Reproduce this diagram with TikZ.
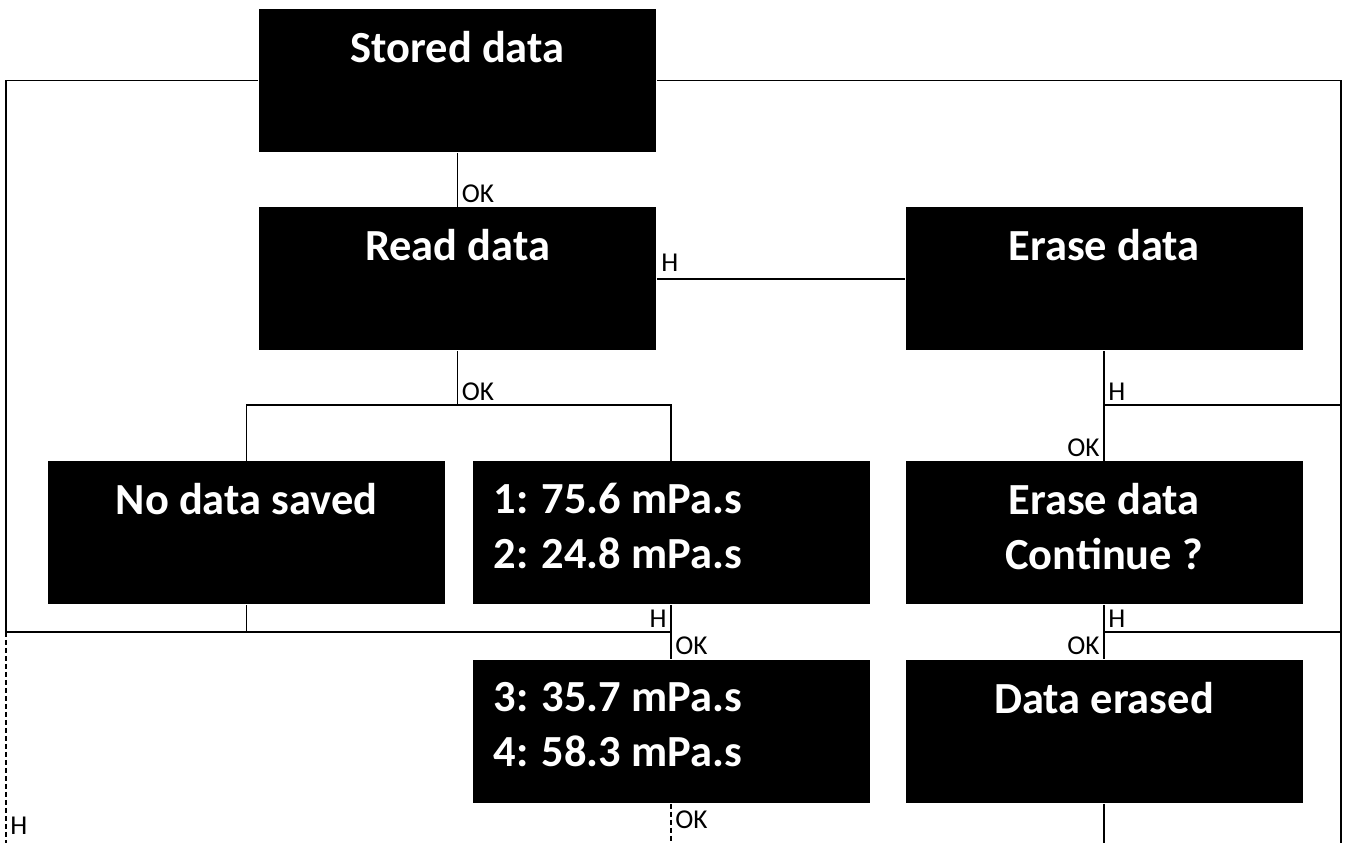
\documentclass[tikz,border=0pt]{standalone}
\usepackage{fontspec}
\setmainfont{Carlito}
\begin{document}
\begin{tikzpicture}[line width=1pt,
  screen/.style={rectangle, fill=black, draw=none, minimum width=7.94cm, minimum height=2.86cm, inner sep=0pt},
  screentext/.style={text=white, font=\bfseries\fontsize{25.3}{31.3}\selectfont, align=center, inner sep=0pt, anchor=north, yshift=-0.44cm},
  key/.style={font=\fontsize{15.5}{17}\selectfont, inner sep=2pt}]
\useasboundingbox (0,0) rectangle (26.92,16.86);
%%%%%%%%%%%%%%%%%%%%%%%%%%%%%%% Screens
\node[screen](stored) at (9.15,15.25){};
\node[screentext](storedTxt) at (stored.north){Stored data};
\node[screen](read) at (9.15,11.28){};
\node[screentext](readTxt) at (read.north){Read data};
\node[screen](erase) at (22.08,11.28){};
\node[screentext](eraseTxt) at (erase.north){Erase data};
\node[screen](nodata) at (4.93,6.20){};
\node[screentext](nodataTxt) at (nodata.north){No data saved};
\node[screen](valA) at (13.42,6.20){};
\node[screentext, anchor=north west, xshift=0.42cm](valATxt) at (valA.north west){1: 75.6 mPa.s\\2: 24.8 mPa.s};
\node[screen](confirm) at (22.08,6.20){};
\node[screentext](confirmTxt) at (confirm.north){Erase data\\Continue ?};
\node[screen](valB) at (13.42,2.23){};
\node[screentext, anchor=north west, xshift=0.42cm](valBTxt) at (valB.north west){3: 35.7 mPa.s\\4: 58.3 mPa.s};
\node[screen](erased) at (22.08,2.23){};
\node[screentext](erasedTxt) at (erased.north){Data erased};
%%%%%%%%%%%%%%%%%%%%%%%%%%%%%%% Junctions
\coordinate (leftTurn) at (0.12,4.22);
\coordinate (leftEnd) at (0.12,0);
\coordinate (rightEnd) at (26.82,0);
\coordinate (okSplit) at (9.15,8.76);
\coordinate (valJoin) at (13.42,4.22);
\coordinate (eraseJoin) at (22.08,8.76);
\coordinate (confirmJoin) at (22.08,4.22);
%%%%%%%%%%%%%%%%%%%%%%%%%%%%%%% Outer loop
\draw (stored.west) -| (leftTurn);
\draw[dash pattern=on 0.1cm off 0.06cm] (leftTurn) -- (leftEnd);
\node[key, anchor=west](hLeft) at (0.12,0.35){H};
\draw (stored.east) -| (rightEnd);
%%%%%%%%%%%%%%%%%%%%%%%%%%%%%%% Read branch
\draw (stored) -- node[key, pos=1, anchor=south west]{OK} (read);
\draw (read) -- node[key, pos=0, anchor=south west, yshift=0.06cm]{H} (erase);
\draw (read) -- node[key, pos=1, anchor=south west]{OK} (okSplit);
\draw (nodata.north) |- (okSplit) -| (valA.north);
\draw (nodata) -- (nodata.south |- leftTurn);
\draw (leftTurn) -- (valJoin);
\draw (valA) -- node[key, pos=1, anchor=south west]{OK} (valB);
\node[key, anchor=south east](hValA) at (valJoin){H};
\draw[dash pattern=on 0.1cm off 0.06cm] (valB) -- (valB.south |- leftEnd);
\node[key, anchor=west](okValB) at (13.42,0.46){OK};
%%%%%%%%%%%%%%%%%%%%%%%%%%%%%%% Erase branch
\draw (erase) -- node[key, pos=1, anchor=south east]{OK} (confirm);
\node[key, anchor=south west](hErase) at (eraseJoin){H};
\draw (eraseJoin) -- (eraseJoin -| rightEnd);
\draw (confirm) -- node[key, pos=1, anchor=south east]{OK} (erased);
\node[key, anchor=south west](hConfirm) at (confirmJoin){H};
\draw (confirmJoin) -- (confirmJoin -| rightEnd);
\draw (erased) -- (erased.south |- rightEnd);
\end{tikzpicture}
\end{document}
